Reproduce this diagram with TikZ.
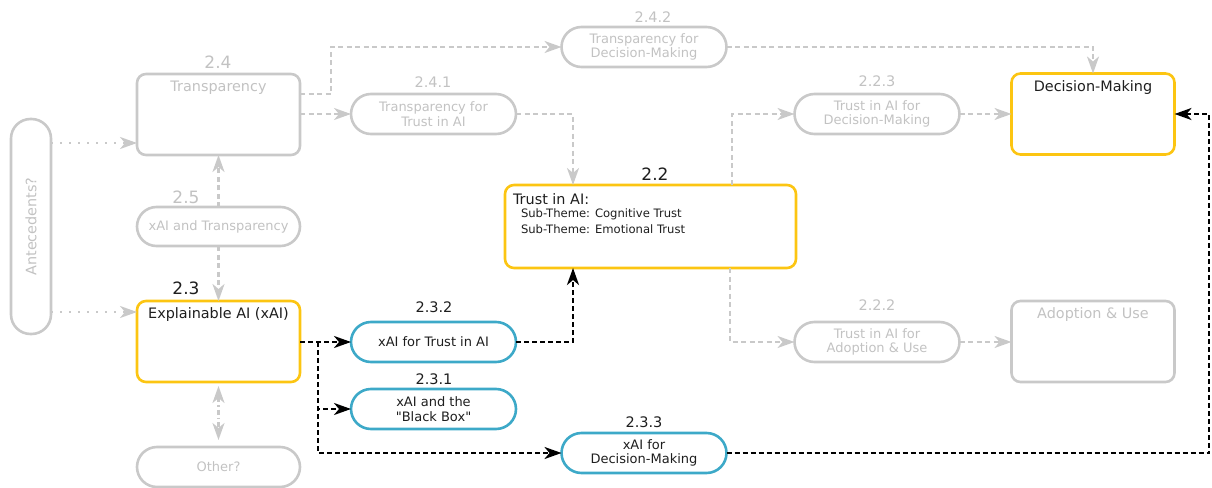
\documentclass[tikz,border=0pt]{standalone}
\usepackage{fontspec}
\setmainfont{DejaVu Sans}[Ligatures=TeXOff]
\usetikzlibrary{arrows.meta,shapes.misc}
\definecolor{gline}{HTML}{C9C9C9}
\definecolor{gtext}{HTML}{C2C2C2}
\definecolor{ybox}{HTML}{FCC512}
\definecolor{bbox}{HTML}{3DA9C8}
\definecolor{dtext}{HTML}{1E1E1E}
\tikzset{
  every node/.style={inner sep=0pt, outer sep=0pt},
  tipg/.tip={Stealth[length=17pt,width=12pt,inset=5pt]},
  boxg/.style={draw=gline, line width=2.6pt, rounded corners=9pt, minimum width=163pt, minimum height=81pt},
  boxy/.style={draw=ybox, line width=2.6pt, rounded corners=9pt, minimum width=163pt, minimum height=81pt},
  pillg/.style={draw=gline, line width=2.6pt, rounded rectangle, minimum width=165pt, minimum height=40pt, text=gtext, font=\fontsize{13}{14.5}\selectfont, align=center},
  pillb/.style={draw=bbox, line width=2.6pt, rounded rectangle, minimum width=165pt, minimum height=40pt, text=dtext, font=\fontsize{13}{14.5}\selectfont, align=center},
  ttlg/.style={text=gtext, font=\fontsize{14.4}{16}\selectfont},
  ttld/.style={text=dtext, font=\fontsize{14.4}{16}\selectfont},
  numg/.style={text=gtext, font=\fontsize{17}{18}\selectfont},
  numd/.style={text=dtext, font=\fontsize{17}{18}\selectfont},
  snumg/.style={text=gtext, font=\fontsize{14.5}{16}\selectfont},
  snumd/.style={text=dtext, font=\fontsize{14.5}{16}\selectfont},
  gdash/.style={draw=gline, line width=2.3pt, dash pattern=on 5pt off 3.5pt, -tipg},
  gdot/.style={draw=gline, line width=2.3pt, dash pattern=on 2pt off 7pt, -tipg},
  gdashdot/.style={draw=gline, line width=2.3pt, dash pattern=on 5pt off 3pt on 1.5pt off 3pt, tipg-tipg},
  kdash/.style={draw=black, line width=2.5pt, dash pattern=on 5pt off 3pt, -tipg},
}
\begin{document}
\begin{tikzpicture}[x=1pt,y=-1pt]
\useasboundingbox (0,0) rectangle (1212,487);
% boxes
\node[draw=gline, line width=2.6pt, rounded corners=19.5pt, minimum width=40pt, minimum height=215pt] (ante) at (31,226.5) {};
\node[ttlg, rotate=90] (antet) at (31,226.5) {Antecedents?};
\node[boxg] (trans) at (218.5,114.5) {};
\node[ttlg] (transt) at (218.5,88) {Transparency};
\node[boxy] (dm) at (1093,114) {};
\node[ttld] (dmt) at (1093,88) {Decision-Making};
\node[boxg] (adopt) at (1093,341.5) {};
\node[ttlg] (adoptt) at (1093,315) {Adoption \& Use};
\node[boxy] (xai) at (218.5,341.5) {};
\node[ttld] (xait) at (218.5,315) {Explainable AI (xAI)};
\node[boxy, minimum width=291pt, minimum height=83pt] (trust) at (650.5,226.5) {};
\node[ttld, anchor=west] (trustt) at (513,199) {Trust in AI:};
\node[text=dtext, font=\fontsize{11.6}{13}\selectfont, anchor=west] (sub1) at (521,214) {Sub-Theme: Cognitive Trust};
\node[text=dtext, font=\fontsize{11.6}{13}\selectfont, anchor=west] (sub2) at (521,229) {Sub-Theme: Emotional Trust};
% pills
\node[pillg] (t241) at (433.5,114) {Transparency for\\Trust in AI};
\node[pillg] (t242) at (644,47) {Transparency for\\Decision-Making};
\node[pillg] (t223) at (877,114) {Trust in AI for\\Decision-Making};
\node[pillg] (t222) at (877,342) {Trust in AI for\\Adoption \& Use};
\node[pillg, minimum width=163pt, minimum height=39pt] (x25) at (218.5,226.5) {xAI and Transparency};
\node[pillg, minimum width=163pt] (other) at (218.5,467) {Other?};
\node[pillb] (x232) at (433.5,342) {xAI for Trust in AI};
\node[pillb] (x231) at (433.5,409) {xAI and the\\"Black Box"};
\node[pillb] (x233) at (644,453) {xAI for\\Decision-Making};
% numbers
\node[numg] (n24) at (218,62) {2.4};
\node[numg] (n25) at (186,197) {2.5};
\node[numd] (n23) at (186,288) {2.3};
\node[numd] (n22) at (655,174) {2.2};
\node[snumg] (n241) at (433,82) {2.4.1};
\node[snumg] (n242) at (653,17) {2.4.2};
\node[snumg] (n223) at (877,81) {2.2.3};
\node[snumg] (n222) at (877,305) {2.2.2};
\node[snumd] (n232) at (434,307) {2.3.2};
\node[snumd] (n231) at (434,379) {2.3.1};
\node[snumd] (n233) at (644,422) {2.3.3};
% gray connectors
\draw[gdot] (ante.east |- 0,143) -- (trans.west |- 0,143);
\draw[gdot] (ante.east |- 0,312) -- (xai.west |- 0,312);
\draw[gdash] (trans.east |- t241.west) -- (t241.west);
\draw[gdash] (trans.east |- 0,94) -- (331,94) |- (t242.west);
\draw[gdash] (t242.east) -| (dm.north);
\draw[gdash] (t241.east) -| ([xshift=68pt]trust.north west);
\draw[gdash] ([xshift=227pt]trust.north west) |- (t223.west);
\draw[gdash] (t223.east) -- (dm.west |- t223.east);
\draw[gdash] ([xshift=225pt]trust.south west) |- (t222.west);
\draw[gdash] (t222.east) -- (adopt.west |- t222.east);
\draw[gdash] (x25.north) -- (trans.south);
\draw[gdash] (x25.south) -- (xai.north);
\draw[gdashdot] ([yshift=-4pt]xai.south) -- ([yshift=7pt]other.north);
% black connectors
\coordinate (br) at (318,342);
\coordinate (rc) at (1209,453);
\draw[kdash] (xai.east |- x232.west) -- (x232.west);
\draw[kdash] (br) |- (x231.west);
\draw[kdash] (br) |- (x233.west);
\draw[kdash] (x232.east) -| ([xshift=68pt]trust.south west);
\draw[kdash] (x233.east) -- (rc) |- (dm.east);
\end{tikzpicture}
\end{document}
